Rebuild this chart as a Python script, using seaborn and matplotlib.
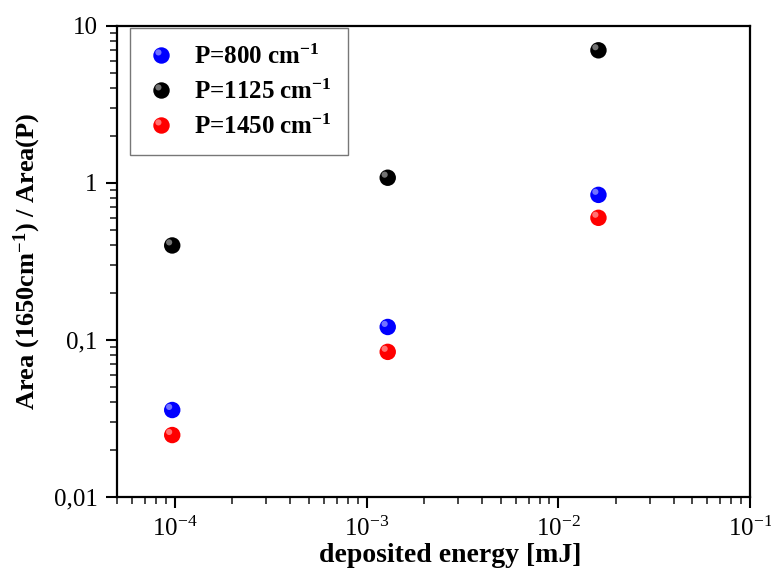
import pandas as pd
import numpy as np
import seaborn as sns
import matplotlib.pyplot as plt
from matplotlib.path import Path
from matplotlib.lines import Line2D
from matplotlib.legend_handler import HandlerTuple
from matplotlib.ticker import FixedLocator, FixedFormatter, LogLocator, NullFormatter

# values
energy = [9.7e-5, 1.29e-3, 1.62e-2]
ratio_800 = [0.0358, 0.121, 0.84]
ratio_1125 = [0.40, 1.08, 7.0]
ratio_1450 = [0.0248, 0.084, 0.60]
series_names = [r'P=800 cm$^{\mathbf{-1}}$', r'P=1125 cm$^{\mathbf{-1}}$', r'P=1450 cm$^{\mathbf{-1}}$']
series_colors = ['#0000ff', '#000000', '#ff0000']

x_ticks = [1e-4, 1e-3, 1e-2, 1e-1]
x_tick_labels = [r'10$^{-4}$', r'10$^{-3}$', r'10$^{-2}$', r'10$^{-1}$']
y_ticks = [0.01, 0.1, 1, 10]
y_tick_labels = ['0,01', '0,1', '1', '10']

df = pd.DataFrame({
    'energy': energy * 3,
    'ratio': ratio_800 + ratio_1125 + ratio_1450,
    'series': [series_names[0]] * 3 + [series_names[1]] * 3 + [series_names[2]] * 3,
})

sns.set_style('ticks')
plt.rcParams['font.family'] = ['Liberation Serif', 'DejaVu Serif']
plt.rcParams['mathtext.fontset'] = 'custom'
plt.rcParams['mathtext.rm'] = 'Liberation Serif'
plt.rcParams['mathtext.bf'] = 'Liberation Serif:bold'
plt.rcParams['mathtext.it'] = 'Liberation Serif:italic'
plt.rcParams['text.color'] = 'black'
plt.rcParams['axes.labelcolor'] = 'black'

fig = plt.figure(figsize=(7.71, 5.75), dpi=100)
ax = fig.add_axes([0.1518, 0.1357, 0.821, 0.8191])

base_size = 140
sns.scatterplot(data=df, x='energy', y='ratio', hue='series', palette=series_colors,
                s=base_size, edgecolor='none', ax=ax)

# soft offset glint so the balls look a bit like the shaded spheres
glint = Path.circle(center=(-1.0, 1.0), radius=1.0)
glint_scale = 0.75
sns.scatterplot(data=df, x='energy', y='ratio', marker=glint, color='white', alpha=0.45,
                s=base_size * glint_scale ** 2, edgecolor='none', legend=False, ax=ax)

ax.set_xscale('log')
ax.set_yscale('log')
ax.set_xlim(5e-5, 1e-1)
ax.set_ylim(0.01, 10)

ax.xaxis.set_major_locator(FixedLocator(x_ticks))
ax.xaxis.set_major_formatter(FixedFormatter(x_tick_labels))
ax.yaxis.set_major_locator(FixedLocator(y_ticks))
ax.yaxis.set_major_formatter(FixedFormatter(y_tick_labels))
ax.xaxis.set_minor_locator(LogLocator(base=10, subs=np.arange(2, 10)))
ax.yaxis.set_minor_locator(LogLocator(base=10, subs=np.arange(2, 10)))
ax.xaxis.set_minor_formatter(NullFormatter())
ax.yaxis.set_minor_formatter(NullFormatter())

ax.tick_params(which='major', direction='out', length=8, width=1.5, labelsize=18, colors='black', pad=6)
ax.tick_params(which='minor', direction='out', length=5, width=1.2)
for sp in ax.spines.values():
    sp.set_linewidth(1.6)
    sp.set_color('black')

ax.set_xlabel('deposited energy [mJ]', fontsize=20, fontweight='bold', labelpad=2)
ax.xaxis.label.set_x(0.527)
ax.set_ylabel(r'Area (1650cm$^{\mathbf{-1}}$) / Area(P)', fontsize=19, fontweight='bold', labelpad=8)

handles, labels = ax.get_legend_handles_labels()
d = np.sqrt(base_size)
new_handles = []
for h in handles:
    g = Line2D([], [], linestyle='none', marker=glint, markersize=d * glint_scale,
               markerfacecolor='white', markeredgecolor='none', alpha=0.45)
    new_handles.append((h, g))

leg = ax.legend(new_handles, labels, handler_map={tuple: HandlerTuple(ndivide=1)},
                loc='upper left', bbox_to_anchor=(0.0205, 0.9958), frameon=True, fancybox=False,
                prop={'family': 'Liberation Serif', 'weight': 'bold', 'size': 18},
                handlelength=1.2, handletextpad=0.7, labelspacing=0.43, borderpad=0.65,
                borderaxespad=0.0)
leg.get_frame().set_edgecolor('#555555')
leg.get_frame().set_linewidth(1.0)
for t in leg.get_texts():
    t.set_color('black')

fig.savefig('out.png', dpi=100)
